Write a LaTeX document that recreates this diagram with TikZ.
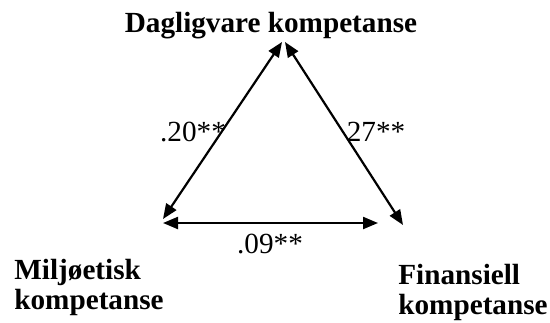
\documentclass[tikz,border=0pt]{standalone}
\usepackage{fontspec}
\setmainfont{Liberation Serif}
\usetikzlibrary{arrows.meta}
\tikzset{
  konst/.style={font=\fontsize{14.6pt}{15pt}\selectfont\bfseries,inner sep=0pt,align=left},
  koef/.style={font=\fontsize{14.6pt}{15pt}\selectfont,inner sep=0pt},
  pil/.style={line width=1.1pt,{Triangle[length=7.5pt,width=6pt]}-{Triangle[length=7.5pt,width=6pt]}}
}
\begin{document}
\begin{tikzpicture}[x=0.5pt,y=-0.5pt,line cap=round,line join=round]
  \useasboundingbox (0,0) rectangle (550,322);
  % konstrukter
  \node[konst,anchor=base] (dag) at (271,32) {Dagligvare kompetanse};
  \node[konst,anchor=north west] (milj) at (14,259) {Miljøetisk\\kompetanse};
  \node[konst,anchor=north west] (fin) at (398,264) {Finansiell\\kompetanse};
  % endepunkter for pilene
  \coordinate (dagV) at (282,42);
  \coordinate (dagH) at (285,42);
  \coordinate (miljO) at (163,219);
  \coordinate (miljH) at (163,223);
  \coordinate (finO) at (403,225);
  \coordinate (finV) at (378,223);
  \draw[pil] (dagV) -- (miljO);
  \draw[pil] (dagH) -- (finO);
  \draw[pil] (miljH) -- (finV);
  % korrelasjoner
  \node[koef,anchor=base] (r1) at (193,141) {.20**};
  \node[koef,anchor=base] (r2) at (376,141) {27**};
  \node[koef,anchor=base] (r3) at (270,253) {.09**};
\end{tikzpicture}
\end{document}
